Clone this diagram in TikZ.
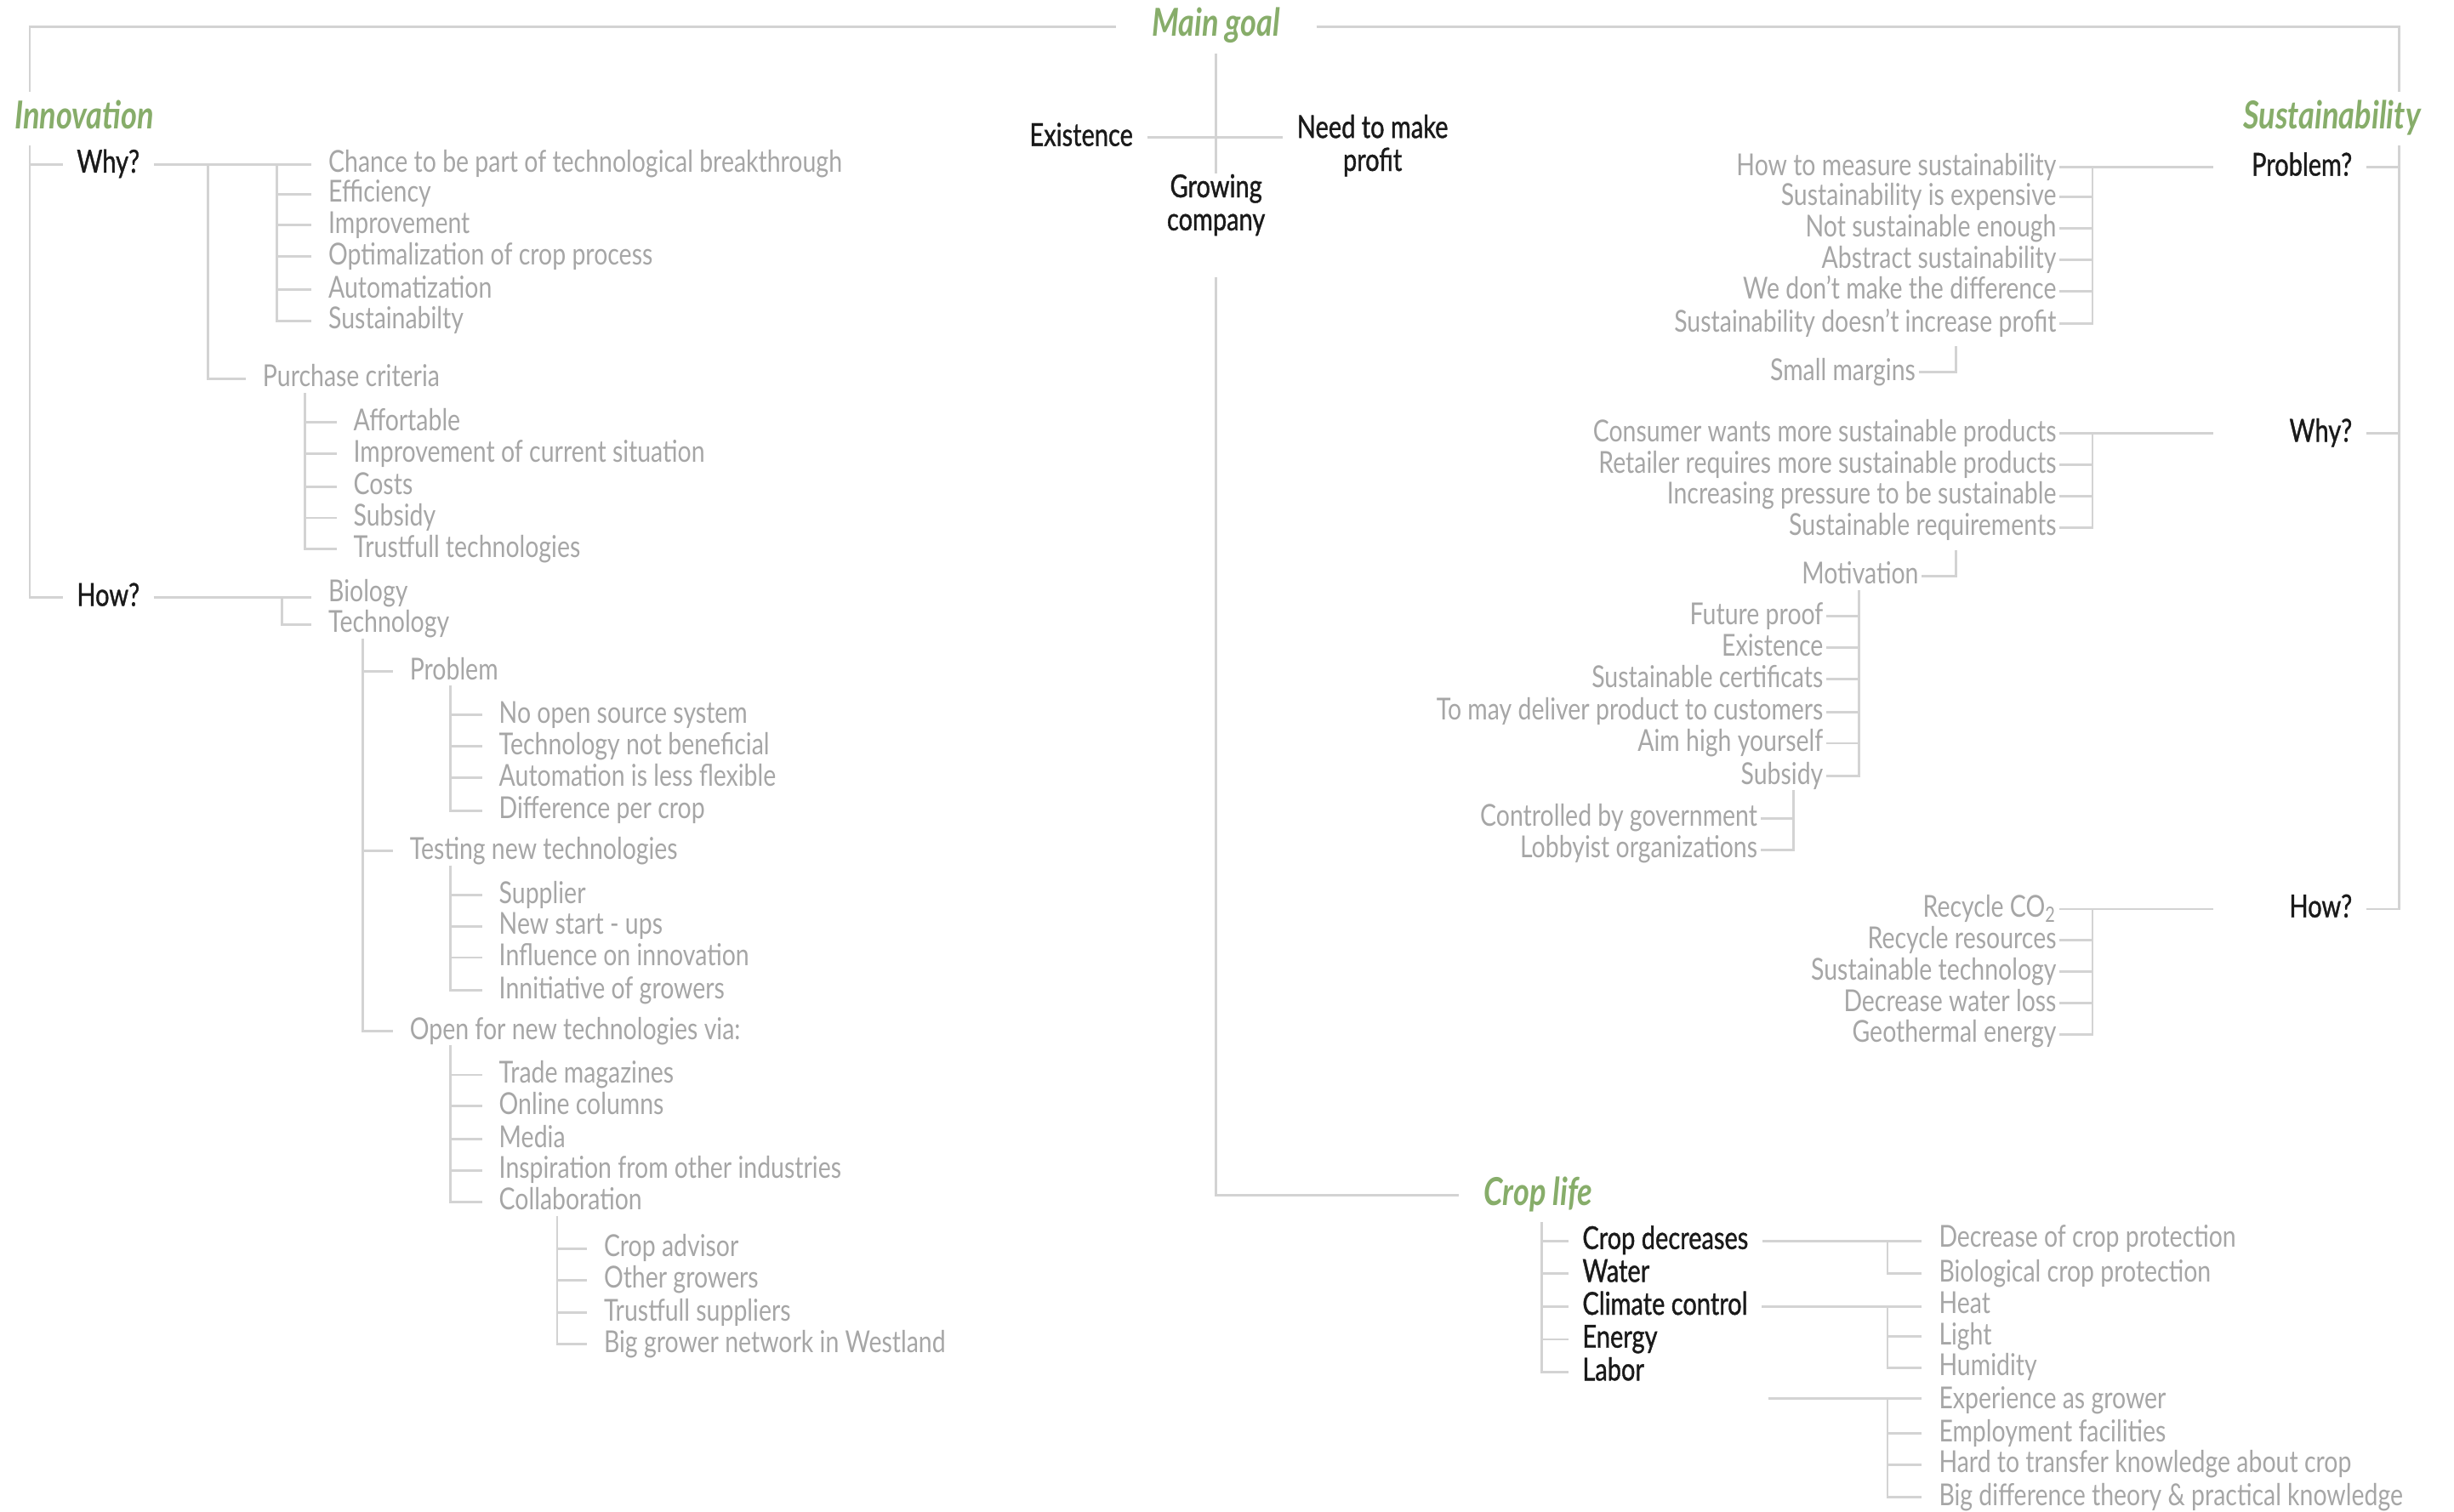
\documentclass[tikz,border=0pt]{standalone}
\usepackage{fontspec}
\setmainfont{Lato}
\newfontfamily\grayfont[FakeStretch=0.80]{Lato}
\newfontfamily\blackfont[FakeStretch=0.78, FakeBold=1.0]{Lato}
\newfontfamily\titlefont[FakeStretch=0.80]{Lato}
\definecolor{lgray}{HTML}{D3D3D3}
\definecolor{tgray}{HTML}{A6A6A6}
\definecolor{tblack}{HTML}{1A1A1A}
\definecolor{tgreen}{HTML}{87AD6A}
\tikzset{
  ln/.style={draw=lgray, line width=0.9pt},
  itm/.style={font=\grayfont\fontsize{11}{12}\selectfont, text=tgray, inner xsep=6pt, inner ysep=0pt, text height=8pt, text depth=2pt, anchor=west},
  itmr/.style={itm, anchor=east, inner xsep=1pt},
  key/.style={font=\blackfont\fontsize{11.5}{12}\selectfont, text=tblack, inner xsep=5pt, inner ysep=0pt},
  keyl/.style={key, text height=8.5pt, text depth=2.5pt},
  ttl/.style={font=\titlefont\bfseries\itshape\fontsize{14}{15}\selectfont, text=tgreen, inner xsep=0pt, inner ysep=3pt, text height=10pt, text depth=3pt},
}
\begin{document}
\begin{tikzpicture}[x=0.02cm,y=-0.02cm]
\useasboundingbox (0,0) rectangle (1568,966);
% bar coordinates
\coordinate (TL) at (19,0);
\coordinate (TR) at (1533,0);
\coordinate (B1) at (133,0);
\coordinate (B2) at (177,0);
\coordinate (B3) at (195,0);
\coordinate (B4) at (180,0);
\coordinate (B5) at (232,0);
\coordinate (B6) at (288,0);
\coordinate (B9) at (356,0);
\coordinate (B10) at (985,0);
\coordinate (B11) at (1206,0);
\coordinate (B12) at (1337,0);
\coordinate (B13) at (1250,0);
\coordinate (B14) at (1188,0);
\coordinate (B15) at (1146,0);
\coordinate (RL) at (1414,0);

% ---------- titles ----------
\node[ttl, inner xsep=13pt] (mg) at (777,17) {Main goal};
\node[ttl, anchor=west] (inno) at (9,76) {Innovation};
\node[ttl, anchor=east] (sust) at (1547,76) {Sustainability};
\node[ttl, anchor=west, inner xsep=9pt] (crop) at (932,764) {Crop life};

% ---------- center ----------
\node[keyl, anchor=east] (exist) at (733,88) {Existence};
\node[key, align=center] (need) at (877,93) {Need to make\\profit};
\node[key, align=center] (grow) at (777,131) {Growing\\company};
\draw[ln] (mg.south) -- (grow.north);
\draw[ln] (exist.east) -- (exist.east -| need.west);
\draw[ln] ([yshift=-15pt]grow.south) |- (crop.west);

% ---------- frame ----------
\draw[ln] (mg.west) -| (TL |- inno.north);
\draw[ln] (mg.east) -| (TR |- sust.north);

% ---------- Innovation ----------
\node[keyl, anchor=west] (whyL) at (40,105) {Why?};
\node[keyl, anchor=west] (howL) at (40,382) {How?};
\draw[ln] (TL |- inno.south) |- (howL.west);
\draw[ln] (whyL.west) -- (TL |- whyL.west);

\node[itm] (c1) at (199,105) {Chance to be part of technological breakthrough};
\node[itm] (c2) at (199,124) {Efficiency};
\node[itm] (c3) at (199,144) {Improvement};
\node[itm] (c4) at (199,164) {Optimalization of crop process};
\node[itm] (c5) at (199,185) {Automatization};
\node[itm] (c6) at (199,205) {Sustainabilty};
\draw[ln] (whyL.east) -- (c1.west);
\draw[ln] (B2 |- c1.west) |- (c6.west);
\foreach \n in {c2,c3,c4,c5} \draw[ln] (\n.west) -- (B2 |- \n.west);

\node[itm] (pc) at (157,242) {Purchase criteria};
\draw[ln] (B1 |- c1.west) |- (pc.west);

\node[itm] (p1) at (215,270) {Affortable};
\node[itm] (p2) at (215,290) {Improvement of current situation};
\node[itm] (p3) at (215,311) {Costs};
\node[itm] (p4) at (215,331) {Subsidy};
\node[itm] (p5) at (215,351) {Trustfull technologies};
\draw[ln] (B3 |- pc.south) |- (p5.west);
\foreach \n in {p1,p2,p3,p4} \draw[ln] (\n.west) -- (B3 |- \n.west);

\node[itm] (bio) at (199,379) {Biology};
\node[itm] (tech) at (199,399) {Technology};
\draw[ln] (howL.east) -- (howL.east -| bio.west);
\draw[ln] (B4 |- howL.east) |- (tech.west);

\node[itm] (t1) at (251,429) {Problem};
\node[itm] (t2) at (251,544) {Testing new technologies};
\node[itm] (t3) at (251,659) {Open for new technologies via:};
\draw[ln] (B5 |- tech.south) |- (t3.west);
\foreach \n in {t1,t2} \draw[ln] (\n.west) -- (B5 |- \n.west);

\node[itm] (q1) at (308,457) {No open source system};
\node[itm] (q2) at (308,477) {Technology not beneficial};
\node[itm] (q3) at (308,497) {Automation is less flexible};
\node[itm] (q4) at (308,518) {Difference per crop};
\draw[ln] (B6 |- t1.south) |- (q4.west);
\foreach \n in {q1,q2,q3} \draw[ln] (\n.west) -- (B6 |- \n.west);

\node[itm] (r1) at (308,572) {Supplier};
\node[itm] (r2) at (308,592) {New start - ups};
\node[itm] (r3) at (308,612) {Influence on innovation};
\node[itm] (r4) at (308,633) {Innitiative of growers};
\draw[ln] (B6 |- t2.south) |- (r4.west);
\foreach \n in {r1,r2,r3} \draw[ln] (\n.west) -- (B6 |- \n.west);

\node[itm] (o1) at (308,687) {Trade magazines};
\node[itm] (o2) at (308,707) {Online columns};
\node[itm] (o3) at (308,728) {Media};
\node[itm] (o4) at (308,748) {Inspiration from other industries};
\node[itm] (o5) at (308,768) {Collaboration};
\draw[ln] (B6 |- t3.south) |- (o5.west);
\foreach \n in {o1,o2,o3,o4} \draw[ln] (\n.west) -- (B6 |- \n.west);

\node[itm] (k1) at (375,798) {Crop advisor};
\node[itm] (k2) at (375,818) {Other growers};
\node[itm] (k3) at (375,839) {Trustfull suppliers};
\node[itm] (k4) at (375,859) {Big grower network in Westland};
\draw[ln] (B9 |- o5.south) |- (k4.west);
\foreach \n in {k1,k2,k3} \draw[ln] (\n.west) -- (B9 |- \n.west);

% ---------- Sustainability ----------
\node[keyl, anchor=east] (probR) at (1512,107) {Problem?};
\node[keyl, anchor=east] (whyR) at (1512,277) {Why?};
\node[keyl, anchor=east] (howR) at (1512,581) {How?};
\draw[ln] (TR |- sust.south) |- (howR.east);
\foreach \n in {probR,whyR} \draw[ln] (\n.east) -- (TR |- \n.east);

\node[itmr] (a1) at (1316,107) {How to measure sustainability};
\node[itmr] (a2) at (1316,126) {Sustainability is expensive};
\node[itmr] (a3) at (1316,146) {Not sustainable enough};
\node[itmr] (a4) at (1316,166) {Abstract sustainability};
\node[itmr] (a5) at (1316,186) {We don’t make the difference};
\node[itmr] (a6) at (1316,207) {Sustainability doesn’t increase profit};
\draw[ln] (RL |- a1.east) -- (a1.east);
\draw[ln] (B12 |- a1.east) |- (a6.east);
\foreach \n in {a2,a3,a4,a5} \draw[ln] (\n.east) -- (B12 |- \n.east);

\node[itmr] (sm) at (1226,238) {Small margins};
\draw[ln] (sm.east) -| ([yshift=-3pt]B13 |- a6.south);

\node[itmr] (b1) at (1316,277) {Consumer wants more sustainable products};
\node[itmr] (b2) at (1316,297) {Retailer requires more sustainable products};
\node[itmr] (b3) at (1316,317) {Increasing pressure to be sustainable};
\node[itmr] (b4) at (1316,337) {Sustainable requirements};
\draw[ln] (RL |- b1.east) -- (b1.east);
\draw[ln] (B12 |- b1.east) |- (b4.east);
\foreach \n in {b2,b3} \draw[ln] (\n.east) -- (B12 |- \n.east);

\node[itmr] (mot) at (1228,368) {Motivation};
\draw[ln] (mot.east) -| ([yshift=-3pt]B13 |- b4.south);

\node[itmr] (m1) at (1167,394) {Future proof};
\node[itmr] (m2) at (1167,414) {Existence};
\node[itmr] (m3) at (1167,434) {Sustainable certificats};
\node[itmr] (m4) at (1167,455) {To may deliver product to customers};
\node[itmr] (m5) at (1167,475) {Aim high yourself};
\node[itmr] (m6) at (1167,496) {Subsidy};
\draw[ln] (B14 |- mot.south) |- (m6.east);
\foreach \n in {m1,m2,m3,m4,m5} \draw[ln] (\n.east) -- (B14 |- \n.east);

\node[itmr] (s1) at (1125,523) {Controlled by government};
\node[itmr] (s2) at (1125,543) {Lobbyist organizations};
\draw[ln] (B15 |- m6.south) |- (s2.east);
\draw[ln] (s1.east) -- (B15 |- s1.east);

\node[itmr] (h1) at (1316,581) {Recycle CO\textsubscript{2}};
\node[itmr] (h2) at (1316,601) {Recycle resources};
\node[itmr] (h3) at (1316,621) {Sustainable technology};
\node[itmr] (h4) at (1316,641) {Decrease water loss};
\node[itmr] (h5) at (1316,661) {Geothermal energy};
\draw[ln] (RL |- howR.west) -- (h1.east);
\draw[ln] (B12 |- h1.east) |- (h5.east);
\foreach \n in {h2,h3,h4} \draw[ln] (\n.east) -- (B12 |- \n.east);

% ---------- Crop life ----------
\node[keyl, anchor=west] (cd) at (1002,793) {Crop decreases};
\node[keyl, anchor=west] (wa) at (1002,814) {Water};
\node[keyl, anchor=west] (cc) at (1002,835) {Climate control};
\node[keyl, anchor=west] (en) at (1002,856) {Energy};
\node[keyl, anchor=west] (lab) at (1002,877) {Labor};
\draw[ln] (B10 |- crop.south) |- (lab.west);
\foreach \n in {cd,wa,cc,en} \draw[ln] (\n.west) -- (B10 |- \n.west);

\node[itm] (d1) at (1228,792) {Decrease of crop protection};
\node[itm] (d2) at (1228,814) {Biological crop protection};
\draw[ln] (cd.east) -- (cd.east -| d1.west);
\draw[ln] (B11 |- cd.east) |- (d2.west);

\node[itm] (e1) at (1228,834) {Heat};
\node[itm] (e2) at (1228,854) {Light};
\node[itm] (e3) at (1228,874) {Humidity};
\draw[ln] (cc.east) -- (cc.east -| e1.west);
\draw[ln] (B11 |- cc.east) |- (e3.west);
\draw[ln] (e2.west) -- (B11 |- e2.west);

\coordinate (labstart) at (1130,894);
\node[itm] (f1) at (1228,895) {Experience as grower};
\node[itm] (f2) at (1228,916) {Employment facilities};
\node[itm] (f3) at (1228,936) {Hard to transfer knowledge about crop};
\node[itm] (f4) at (1228,957) {Big difference theory \& practical knowledge};
\draw[ln] (labstart) -- (labstart -| f1.west);
\draw[ln] (B11 |- labstart) |- (f4.west);
\foreach \n in {f2,f3} \draw[ln] (\n.west) -- (B11 |- \n.west);
\end{tikzpicture}
\end{document}
